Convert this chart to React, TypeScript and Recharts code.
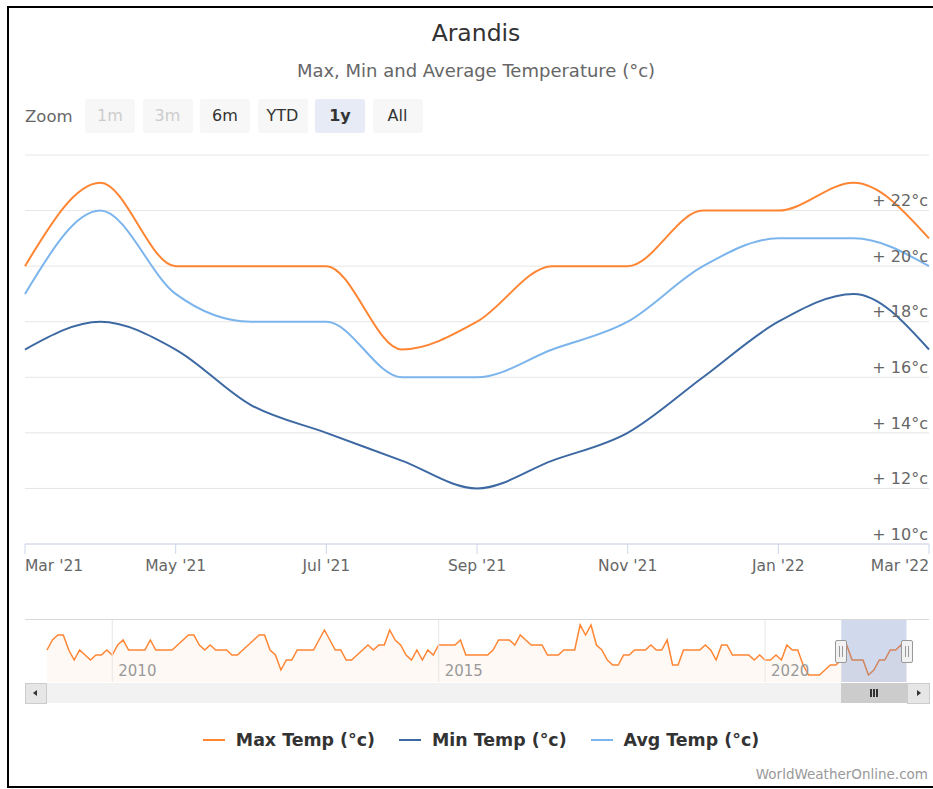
import React from "react";
import {
  LineChart,
  Line,
  XAxis,
  YAxis,
  CartesianGrid,
  AreaChart,
  Area,
  ReferenceLine,
  ReferenceArea,
} from "recharts";

// main view: Mar '21 - Mar '22, monthly
const months = [
  "Mar '21", "Apr '21", "May '21", "Jun '21", "Jul '21", "Aug '21", "Sep '21",
  "Oct '21", "Nov '21", "Dec '21", "Jan '22", "Feb '22", "Mar '22",
];
const maxTemp = [20, 23, 20, 20, 20, 17, 18, 20, 20, 22, 22, 23, 21];
const minTemp = [17, 18, 17, 15, 14, 13, 12, 13, 14, 16, 18, 19, 17];
const avgTemp = [19, 22, 19, 18, 18, 16, 16, 17, 18, 20, 21, 21, 20];
const tempTicks = [10, 12, 14, 16, 18, 20, 22, 24];

// navigator: monthly max temp, Jan 2009 - Mar 2022
const navStartYear = 2009;
const navMax = [
  22, 24, 25, 25, 22, 20, 22, 21, 20, 21, 21, 22,
  21, 23, 24, 22, 22, 22, 22, 24, 22, 22, 22, 22,
  23, 24, 25, 25, 23, 22, 23, 22, 22, 22, 21, 21,
  22, 23, 24, 25, 25, 22, 21, 18, 20, 20, 22, 22,
  22, 22, 24, 26, 24, 22, 22, 20, 20, 21, 22, 23,
  22, 23, 23, 26, 24, 23, 21, 20, 22, 20, 22, 21,
  23, 23, 23, 23, 24, 21, 21, 21, 21, 21, 22, 24,
  24, 24, 23, 25, 24, 23, 23, 23, 21, 21, 21, 22,
  22, 22, 27, 25, 27, 23, 22, 20, 19, 19, 21, 21,
  22, 22, 22, 23, 22, 22, 24, 19, 19, 22, 22, 22,
  22, 23, 22, 20, 23, 23, 21, 21, 21, 21, 20, 21,
  20, 20, 21, 20, 23, 22, 22, 19, 17, 17, 17, 18,
  19, 19, 20, 23, 20, 20, 20, 17, 18, 20, 20, 22, 22, 23, 21,
];
const navYears = [2010, 2015, 2020];

const zoomButtons = ["1m", "3m", "6m", "YTD", "1y", "All"];
const disabledButtons = ["1m", "3m"];
const selectedButton = "1y";

const series = [
  { key: "max", name: "Max Temp (°c)", color: "#ff8533" },
  { key: "min", name: "Min Temp (°c)", color: "#3d69a3" },
  { key: "avg", name: "Avg Temp (°c)", color: "#7cb5ec" },
];

const data = months.map((m, i) => ({
  month: m,
  max: maxTemp[i],
  min: minTemp[i],
  avg: avgTemp[i],
}));

const navData = navMax.map((v, i) => ({ i, v }));
const selStart = navMax.length - months.length;
const selEnd = navMax.length - 1;

const FONT = "'DejaVu Sans', Verdana, sans-serif";
const NAV_DOMAIN: [number, number] = [-4.04, 162.13];
const PLOT_L = 25;
const PLOT_W = 904;
const navX = (i: number) =>
  PLOT_L + ((i - NAV_DOMAIN[0]) / (NAV_DOMAIN[1] - NAV_DOMAIN[0])) * PLOT_W;

const YTick = (props: any) => {
  const { y, payload } = props;
  if (payload.value === tempTicks[tempTicks.length - 1]) return <g />;
  return (
    <text x={920} y={y - 10} dy="0.36em" textAnchor="end" fill="#666" fontSize={16} fontFamily={FONT}>
      {"+ " + payload.value + "°c"}
    </text>
  );
};

const XTick = (props: any) => {
  const { x, y, payload } = props;
  let anchor = "middle";
  if (payload.value === months[0]) anchor = "start";
  if (payload.value === months[months.length - 1]) anchor = "end";
  return (
    <text x={x} y={y} dy={15} textAnchor={anchor} fill="#666" fontSize={15.5} fontFamily={FONT}>
      {payload.value}
    </text>
  );
};

const Handle = ({ x }: { x: number }) => (
  <div
    style={{
      position: "absolute",
      left: x - 6,
      top: 640,
      width: 10,
      height: 21,
      background: "#f2f2f2",
      border: "1px solid #999",
      borderRadius: 2,
    }}
  >
    <div style={{ position: "absolute", left: 3, top: 5, width: 1, height: 11, background: "#999" }} />
    <div style={{ position: "absolute", left: 6, top: 5, width: 1, height: 11, background: "#999" }} />
  </div>
);

export default function App() {
  const thumbL = navX(selStart);
  const thumbR = navX(selEnd);
  return (
    <div
      style={{
        position: "fixed",
        left: 0,
        top: 0,
        width: 933,
        height: 789,
        overflow: "hidden",
        background: "#fff",
        fontFamily: FONT,
      }}
    >
      {/* frame */}
      <div style={{ position: "absolute", left: 7, top: 6, width: 940, height: 2, background: "#000" }} />
      <div style={{ position: "absolute", left: 7, top: 6, width: 2, height: 782, background: "#000" }} />
      <div style={{ position: "absolute", left: 7, top: 786, width: 940, height: 2, background: "#000" }} />

      <div style={{ position: "absolute", left: 10, width: 932, top: 19, textAlign: "center", fontSize: 23.5, color: "#333" }}>
        Arandis
      </div>
      <div style={{ position: "absolute", left: 10, width: 932, top: 60, textAlign: "center", fontSize: 18, color: "#666" }}>
        Max, Min and Average Temperature (°c)
      </div>

      {/* range selector */}
      <div style={{ position: "absolute", left: 25, top: 107, fontSize: 16.5, color: "#666" }}>Zoom</div>
      {zoomButtons.map((b, i) => {
        const disabled = disabledButtons.includes(b);
        const sel = b === selectedButton;
        return (
          <div
            key={b}
            style={{
              position: "absolute",
              left: 85 + i * 57.5,
              top: 99,
              width: 50,
              height: 34,
              lineHeight: "34px",
              textAlign: "center",
              fontSize: 16,
              borderRadius: 2,
              background: sel ? "#e6ebf5" : "#f7f7f7",
              color: disabled ? "#cccccc" : "#333",
              fontWeight: sel ? "bold" : "normal",
            }}
          >
            {b}
          </div>
        );
      })}

      {/* main chart */}
      <div style={{ position: "absolute", left: 8, top: 140 }}>
        <LineChart width={925} height={460} data={data} margin={{ top: 15, right: 3, left: 17, bottom: 26 }}>
          <CartesianGrid vertical={false} stroke="#e6e6e6" />
          <XAxis
            dataKey="month"
            interval={1}
            height={30}
            axisLine={{ stroke: "#ccd6eb" }}
            tickLine={{ stroke: "#ccd6eb" }}
            tickSize={10}
            tickMargin={2}
            tick={<XTick />}
          />
          <YAxis
            orientation="right"
            width={1}
            domain={[10, 24]}
            ticks={tempTicks}
            axisLine={false}
            tickLine={false}
            tick={<YTick />}
          />
          {series.map((s) => (
            <Line
              key={s.key}
              type="monotone"
              dataKey={s.key}
              name={s.name}
              stroke={s.color}
              strokeWidth={2}
              dot={false}
              activeDot={false}
              isAnimationActive={false}
            />
          ))}
        </LineChart>
      </div>

      {/* navigator */}
      <div style={{ position: "absolute", left: 25, top: 619, width: 904, height: 1, background: "#d9d9d9" }} />
      <div style={{ position: "absolute", left: 8, top: 610 }}>
        <AreaChart width={925} height={80} data={navData} margin={{ top: 10, right: 4, left: 17, bottom: 8 }}>
          <XAxis hide type="number" dataKey="i" domain={NAV_DOMAIN} allowDataOverflow />
          <YAxis hide domain={[15.6, 28]} allowDataOverflow />
          {navYears.map((y) => (
            <ReferenceLine
              key={y}
              x={(y - navStartYear) * 12}
              stroke="#e6e6e6"
              label={{ value: String(y), position: "insideBottomLeft", offset: 6, fill: "#999", fontSize: 15, fontFamily: FONT }}
            />
          ))}
          <Area
            type="linear"
            dataKey="v"
            stroke="#ff8533"
            strokeWidth={1.5}
            fill="#ff8533"
            fillOpacity={0.05}
            dot={false}
            activeDot={false}
            isAnimationActive={false}
          />
          <ReferenceArea x1={selStart} x2={selEnd} fill="#6685c2" fillOpacity={0.3} stroke="none" />
        </AreaChart>
      </div>
      <Handle x={thumbL} />
      <Handle x={thumbR} />

      {/* scrollbar */}
      <div style={{ position: "absolute", left: 25, top: 683, width: 904, height: 20, background: "#f2f2f2" }} />
      <div
        style={{
          position: "absolute",
          left: thumbL,
          top: 683,
          width: thumbR - thumbL,
          height: 20,
          background: "#cccccc",
        }}
      >
        {[-3, 0, 3].map((d) => (
          <div
            key={d}
            style={{
              position: "absolute",
              left: (thumbR - thumbL) / 2 + d - 0.5,
              top: 6,
              width: 1.5,
              height: 8,
              background: "#333",
            }}
          />
        ))}
      </div>
      <div style={{ position: "absolute", left: 25, top: 683, width: 20, height: 19, background: "#e6e6e6", border: "1px solid #ccc" }}>
        <div style={{ position: "absolute", left: 7, top: 6, width: 0, height: 0, borderTop: "3.5px solid transparent", borderBottom: "3.5px solid transparent", borderRight: "4px solid #333" }} />
      </div>
      <div style={{ position: "absolute", left: 907, top: 683, width: 21, height: 19, background: "#e6e6e6", border: "1px solid #ccc" }}>
        <div style={{ position: "absolute", left: 9, top: 6, width: 0, height: 0, borderTop: "3.5px solid transparent", borderBottom: "3.5px solid transparent", borderLeft: "4px solid #333" }} />
      </div>

      {/* legend */}
      <div
        style={{
          position: "absolute",
          left: 10,
          width: 942,
          top: 730,
          display: "flex",
          justifyContent: "center",
          gap: 24,
          fontSize: 17.4,
          fontWeight: "bold",
          color: "#333",
        }}
      >
        {series.map((s) => (
          <div key={s.key} style={{ display: "flex", alignItems: "center" }}>
            <div style={{ width: 22, height: 2.5, background: s.color, marginRight: 11 }} />
            <span>{s.name}</span>
          </div>
        ))}
      </div>

      <div style={{ position: "absolute", right: 5, top: 766, fontSize: 13.5, color: "#999" }}>WorldWeatherOnline.com</div>
    </div>
  );
}
